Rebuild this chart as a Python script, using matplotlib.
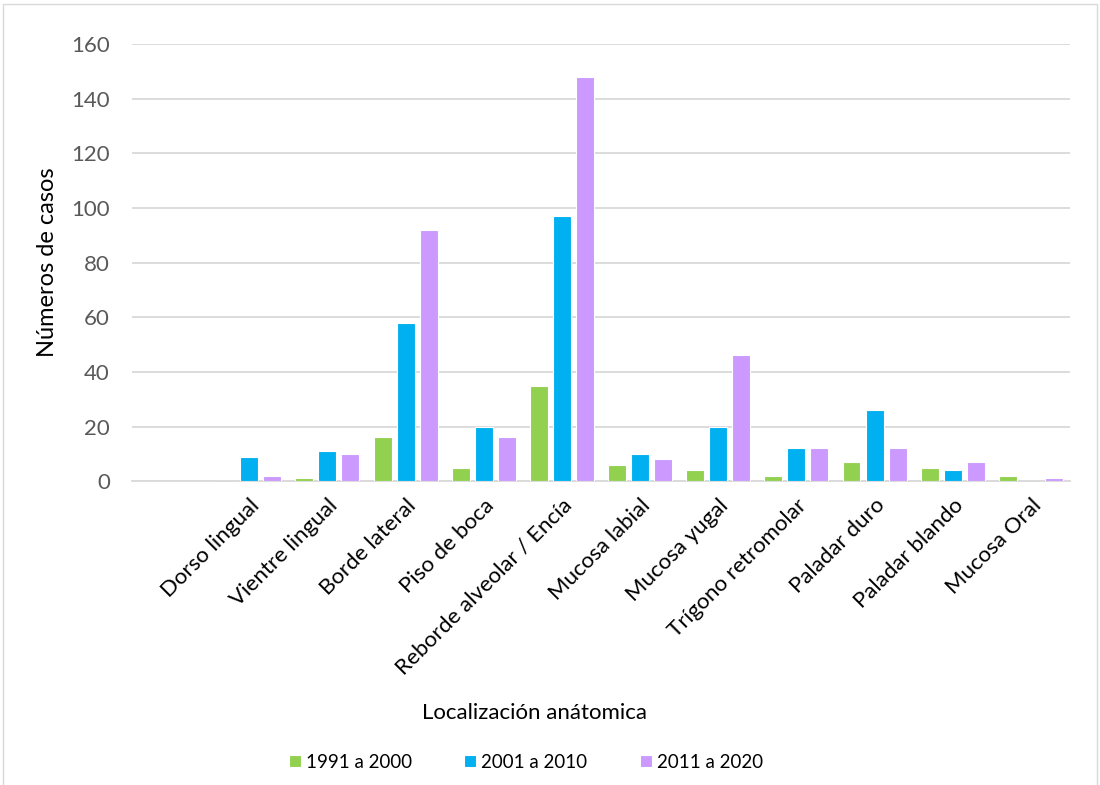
import matplotlib
matplotlib.use("Agg")
from matplotlib import pyplot as plt
import numpy as np

categories = ["Dorso lingual", "Vientre lingual", "Borde lateral", "Piso de boca",
              "Reborde alveolar / Encía", "Mucosa labial", "Mucosa yugal",
              "Trígono retromolar", "Paladar duro", "Paladar blando", "Mucosa Oral"]
s1991 = [0, 1, 16, 5, 35, 6, 4, 2, 7, 5, 2]
s2001 = [9, 11, 58, 20, 97, 10, 20, 12, 26, 4, 0]
s2011 = [2, 10, 92, 16, 148, 8, 46, 12, 12, 7, 1]
series_names = ["1991 a 2000", "2001 a 2010", "2011 a 2020"]
colors = ["#92D050", "#00B0F0", "#CC99FF"]

plt.rcParams['font.family'] = ['Lato', 'DejaVu Sans']

fig = plt.figure(figsize=(11, 7.85), dpi=100)
ax = fig.add_axes([0.12, 0.387, 0.8527, 0.557])

x = np.arange(len(categories))
w = 0.23
step = 0.295
for i, (vals, name, c) in enumerate(zip([s1991, s2001, s2011], series_names, colors)):
    ax.bar(x + (i - 1) * step, vals, w, color=c, edgecolor="white", linewidth=0.8, label=name, zorder=3)

# the original chart leaves one empty slot before the first category
ax.set_xlim(-1.5, len(categories) - 0.5)
ax.set_ylim(0, 160)
ax.set_yticks(range(0, 161, 20))
ax.grid(axis="y", color="#d9d9d9", linewidth=1.3, zorder=0)
for s in ["top", "right", "left"]:
    ax.spines[s].set_visible(False)
ax.spines["bottom"].set_color("#d9d9d9")
ax.spines["bottom"].set_linewidth(1.3)
ax.tick_params(axis="both", length=0, labelsize=16)
ax.tick_params(axis="y", pad=16, labelcolor="#595959")
ax.tick_params(axis="x", pad=10)
ax.set_xticks(x)
ax.set_xticklabels(categories, rotation=45, ha="right", rotation_mode="anchor", fontsize=16, color="black")

fig.text(48 / 1100, 1 - 262 / 785, "Números de casos", rotation=90, ha="center", va="center", fontsize=17)
fig.text(535 / 1100, 1 - 713 / 785, "Localización anátomica", ha="center", va="center", fontsize=16)

fig.legend(loc="center", bbox_to_anchor=(526 / 1100, 1 - 762 / 785), ncol=3, frameon=False,
           fontsize=13.5, handlelength=0.64, handleheight=0.64, columnspacing=2.77, handletextpad=0.27)

fig.patches.append(plt.Rectangle((0.003, -0.01), 0.994, 1.005, transform=fig.transFigure,
                                 fill=False, edgecolor="#d9d9d9", linewidth=1))

fig.savefig("out.png", dpi=100)
